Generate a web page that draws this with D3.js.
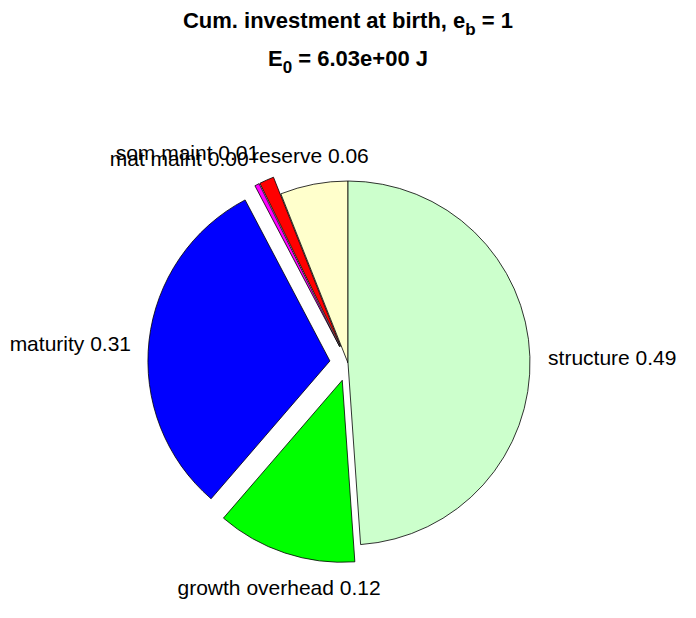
<!DOCTYPE html>
<html>
<head>
<meta charset="utf-8">
<script src="https://cdn.jsdelivr.net/npm/d3@7"></script>
<style>
  html, body { margin: 0; padding: 0; background: #ffffff; }
  svg { display: block; font-family: "Liberation Sans", Arial, sans-serif; }
</style>
</head>
<body>
<svg id="chart" width="696" height="618"></svg>
<script>
// ---- data (MATLAB pie order, counter-clockwise from 12 o'clock) ----
const categories = ["reserve", "som maint", "mat maint", "maturity", "growth overhead", "structure"];
const values     = [0.060, 0.013, 0.004, 0.309, 0.124, 0.488];
const shown      = ["0.06", "0.01", "0.00", "0.31", "0.12", "0.49"];
const exploded   = [0, 1, 1, 1, 1, 0];
const colors     = ["#ffffcc", "#ff0000", "#ff00ff", "#0000ff", "#00ff00", "#ccffcc"];
const titleMain  = "Cum. investment at birth, e";
const titleSub   = "b";
const titleTail  = " = 1";
const line2Main  = "E";
const line2Sub   = "0";
const line2Tail  = " = 6.03e+00 J";

const W = 696, H = 618;
const cx = 348, cy = 363, R = 182;
const svg = d3.select("#chart");

// title
const t1 = svg.append("text").attr("x", cx).attr("y", 28)
  .attr("text-anchor", "middle").attr("font-size", 22).attr("font-weight", "bold").attr("fill", "#000");
t1.append("tspan").text(titleMain);
t1.append("tspan").attr("font-size", 17).attr("dy", 7).text(titleSub);
t1.append("tspan").attr("dy", -7).text(titleTail);

const t2 = svg.append("text").attr("x", cx).attr("y", 66)
  .attr("text-anchor", "middle").attr("font-size", 22).attr("font-weight", "bold").attr("fill", "#000");
t2.append("tspan").text(line2Main);
t2.append("tspan").attr("font-size", 17).attr("dy", 7).text(line2Sub);
t2.append("tspan").attr("dy", -7).text(line2Tail);

const data = categories.map((c, i) => ({ name: c, value: values[i], label: shown[i], ex: exploded[i], color: colors[i] }));

const pie = d3.pie().sort(null).value(d => d.value).startAngle(0).endAngle(-2 * Math.PI);
const arcs = pie(data);
const arc = d3.arc().innerRadius(0).outerRadius(R);

const g = svg.append("g").attr("transform", `translate(${cx},${cy})`);

arcs.forEach(a => {
  const mid = (a.startAngle + a.endAngle) / 2;
  const off = a.data.ex ? 0.1 * R : 0;
  const ox = off * Math.sin(mid), oy = -off * Math.cos(mid);
  g.append("path")
    .attr("d", arc(a))
    .attr("transform", `translate(${ox},${oy})`)
    .attr("fill", a.data.color)
    .attr("stroke", "#000")
    .attr("stroke-width", 0.8)
    .attr("stroke-linejoin", "miter");
});

arcs.forEach(a => {
  const mid = (a.startAngle + a.endAngle) / 2;
  const off = a.data.ex ? 0.1 * R : 0;
  const ox = off * Math.sin(mid), oy = -off * Math.cos(mid);
  const lr = 1.1 * R;
  const s = Math.sin(mid), c = Math.cos(mid);
  const lx = ox + lr * s, ly = oy - lr * c;
  let anchor = "middle";
  if (Math.abs(s) >= 0.35) anchor = s < 0 ? "end" : "start";
  let base;
  if (c > 0.35) base = ly - 3;           // label above
  else if (c < -0.35) base = ly + 25;    // label below
  else base = ly + (a.data.ex ? 13 : 9); // side
  g.append("text")
    .attr("x", lx).attr("y", base)
    .attr("text-anchor", anchor)
    .attr("font-size", 21)
    .attr("fill", "#000")
    .text(a.data.name + " " + a.data.label);
});
</script>
</body>
</html>
